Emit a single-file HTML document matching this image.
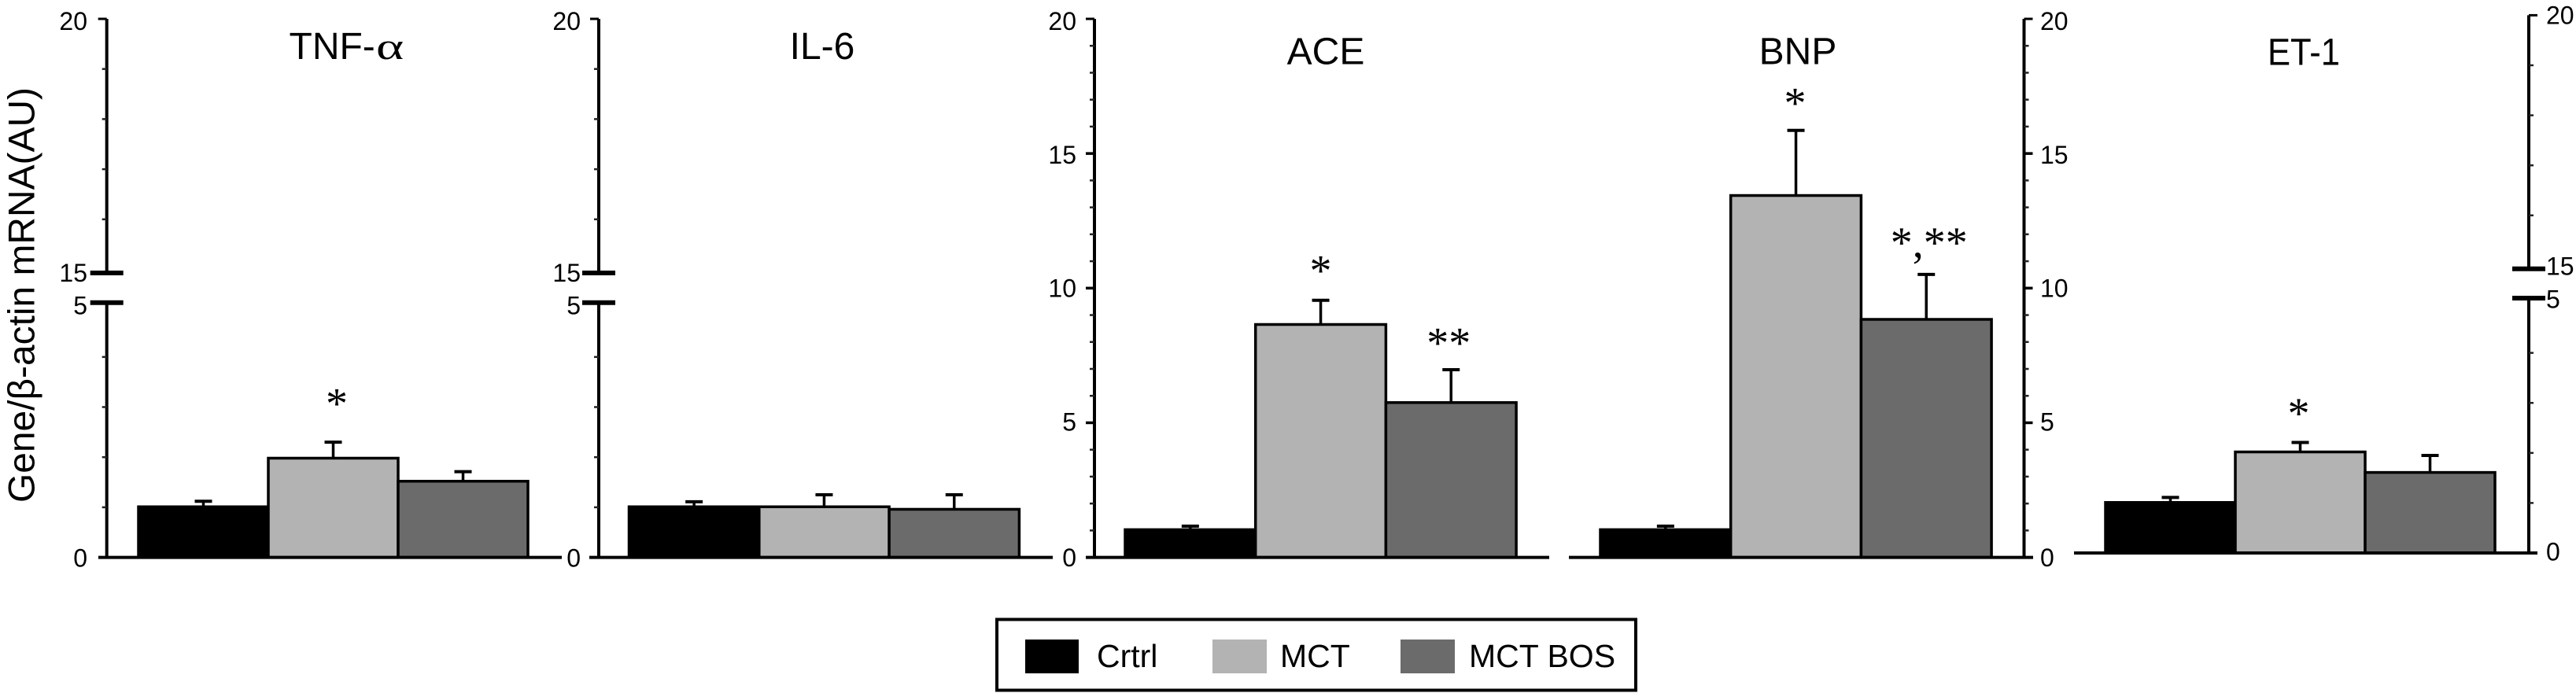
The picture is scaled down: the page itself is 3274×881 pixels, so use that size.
<!DOCTYPE html>
<html lang="en">
<head>
<meta charset="utf-8">
<title>Gene expression bar charts</title>
<style>
html,body{margin:0;padding:0;background:#fff;width:3274px;height:881px;overflow:hidden}
svg{display:block}
text{font-family:"Liberation Sans",sans-serif;fill:#000}
</style>
</head>
<body>
<svg id="figure" xmlns="http://www.w3.org/2000/svg" width="3274" height="881" viewBox="0 0 3274 881">
  <rect width="3274" height="881" fill="#fff"/>
  <text transform="translate(43.5,639) rotate(-90)" font-size="47.5" textLength="528" lengthAdjust="spacingAndGlyphs">Gene/β-actin mRNA(AU)</text>
  <g id="panels"></g>
  <g>
    <rect x="1267" y="787.5" width="812" height="90" fill="#fff" stroke="#000" stroke-width="4"/>
    <g>
      <rect x="1303" y="813" width="68" height="43" fill="#000"/>
      <text x="1394" y="848" font-size="41">Crtrl</text>
    </g>
    <g>
      <rect x="1541" y="813" width="69" height="43" fill="#b3b3b3"/>
      <text x="1627" y="848" font-size="41">MCT</text>
    </g>
    <g>
      <rect x="1780" y="813" width="69" height="43" fill="#6b6b6b"/>
      <text x="1867" y="848" font-size="41">MCT BOS</text>
    </g>
  </g>
</svg>
<script>
// ---- data ----
const groups = ['crtrl', 'mct', 'mct-bos'];
const titles = ['TNF-', 'IL-6', 'ACE', 'BNP', 'ET-1'];
const tnfMeans = [1.01, 1.98, 1.52];
const tnfErrors = [0.11, 0.32, 0.19];
const il6Means = [1.01, 1.01, 0.96];
const il6Errors = [0.10, 0.24, 0.29];
const aceMeans = [1.03, 8.65, 5.75];
const aceErrors = [0.13, 0.90, 1.22];
const bnpMeans = [1.03, 13.44, 8.84];
const bnpErrors = [0.13, 2.42, 1.67];
const et1Means = [1.01, 2.02, 1.61];
const et1Errors = [0.10, 0.19, 0.34];
const tnfMarks = ['', '*', ''];
const il6Marks = ['', '', ''];
const aceMarks = ['', '*', '**'];
const bnpMarks = ['', '*', '*,**'];
const et1Marks = ['', '*', ''];
const brokenTickLabels = [0, 5, 15, 20];
const brokenMinorTicks = [1, 2, 3, 4, 16, 17, 18, 19];
const linearTickLabels = [0, 5, 10, 15, 20];
const linearMinorTicks = [1, 2, 3, 4, 6, 7, 8, 9, 11, 12, 13, 14, 16, 17, 18, 19];

// ---- layout (not data) ----
const barColors = ['#000000', '#b3b3b3', '#6b6b6b'];
const panelLayouts = [
  {key:'tnf', means:tnfMeans, errors:tnfErrors, marks:tnfMarks, broken:true, side:'left', axisX:135.7, top:24, base:708.6, unit:63.7, b15:347, b5:384.7, baseFrom:125, baseTo:714, barLeft:176, barWidth:165, titleX:367.5, titleAnchor:'start', titleY:75, labelX:111},
  {key:'il6', means:il6Means, errors:il6Errors, marks:il6Marks, broken:true, side:'left', axisX:761, top:24, base:708.6, unit:63.7, b15:347, b5:384.7, baseFrom:749, baseTo:1338, barLeft:799.5, barWidth:165.3, titleX:1045, titleY:75, labelX:738},
  {key:'ace', means:aceMeans, errors:aceErrors, marks:aceMarks, broken:false, side:'left', axisX:1391, top:24, base:708.6, baseFrom:1380, baseTo:1969, barLeft:1430, barWidth:165.7, titleX:1685, titleY:81.4, labelX:1368},
  {key:'bnp', means:bnpMeans, errors:bnpErrors, marks:bnpMarks, broken:false, side:'right', axisX:2572.5, top:24, base:708.6, baseFrom:1994, baseTo:2584, barLeft:2034, barWidth:165.7, titleX:2285, titleY:81.4, labelX:2593},
  {key:'et1', means:et1Means, errors:et1Errors, marks:et1Marks, broken:true, side:'right', axisX:3214, top:19.4, base:703, unit:63.6, b15:341.7, b5:379, baseFrom:2636, baseTo:3225, barLeft:2676, barWidth:165, titleX:2928, titleY:82.4, titleLength:92, labelX:3236}
];
const markLifts = {tnf:[0,54.6,0], il6:[0,0,0], ace:[0,43.2,39.5], bnp:[0,40.2,45.8], et1:[0,42.4,0]};
const markShifts = {tnf:[0,4.5,0], il6:[0,0,0], ace:[0,0,-3], bnp:[0,-1,3.5], et1:[0,-2,0]};
const SVG_NS = 'http://www.w3.org/2000/svg';

function make(tag, attrs, parent) {
  const node = document.createElementNS(SVG_NS, tag);
  for (const k in attrs) node.setAttribute(k, attrs[k]);
  parent.appendChild(node);
  return node;
}

function yScale(p) {
  if (p.broken) {
    return function (v) {
      return v <= 5 ? p.base - v * p.unit : p.top + (20 - v) * p.unit;
    };
  }
  const u = (p.base - p.top) / 20;
  return function (v) { return p.base - v * u; };
}

function labelY(p, v) {
  const y = v === 15 && p.broken ? p.b15 : v === 5 && p.broken ? p.b5 : yScale(p)(v);
  if (p.key === 'et1') return y + ({0:9.6, 5:12.7, 15:8, 20:11})[v];
  if (p.broken) return y + ({0:12, 5:15, 15:11, 20:14})[v];
  return y + ({0:11.5, 5:10, 10:11, 15:13, 20:14})[v];
}

const root = document.getElementById('panels');

panelLayouts.forEach(function (p, pi) {
  const y = yScale(p);
  const dir = p.side === 'left' ? -1 : 1;
  const g = make('g', {}, root);
  
  

  // error bars (behind bars)
  p.means.forEach(function (m, i) {
    const cx = p.barLeft + p.barWidth * (i + 0.5);
    const topY = y(m + p.errors[i]);
    const stem = make('line', {x1:cx, x2:cx, y1:y(m), y2:topY, stroke:'#000', 'stroke-width':3.5}, g);
    
    
    const cap = make('line', {x1:cx - 11, x2:cx + 11, y1:topY, y2:topY, stroke:'#000', 'stroke-width':4}, g);
    
    
  });

  // bars
  p.means.forEach(function (m, i) {
    const bar = make('rect', {x:p.barLeft + p.barWidth * i, y:y(m), width:p.barWidth, height:p.base - y(m), fill:barColors[i], stroke:'#000', 'stroke-width':3.5}, g);
    
    
  });

  // significance marks
  p.marks.forEach(function (mark, i) {
    if (!mark) return;
    const cx = p.barLeft + p.barWidth * (i + 0.5) + markShifts[p.key][i];
    const t = make('text', {x:cx, y:y(p.means[i] + p.errors[i]) - markLifts[p.key][i] + 24, 'font-size':56, 'text-anchor':'middle', style:'font-family:"Liberation Serif",serif'}, g);
    t.textContent = mark;
    
    
  });

  // baseline
  const baseLine = make('line', {x1:p.baseFrom, x2:p.baseTo, y1:p.base, y2:p.base, stroke:'#000', 'stroke-width':4}, g);
  
  

  // y axis line
  const segments = p.broken ? [[p.top, p.b15], [p.b5, p.base]] : [[p.top, p.base]];
  segments.forEach(function (seg, si) {
    const axis = make('line', {x1:p.axisX, x2:p.axisX, y1:seg[0], y2:seg[1], stroke:'#000', 'stroke-width':4}, g);
    
    
  });

  // minor ticks
  const minors = p.broken ? brokenMinorTicks : linearMinorTicks;
  minors.forEach(function (v) {
    const tick = make('line', {x1:p.axisX, x2:p.axisX + dir * 6, y1:y(v), y2:y(v), stroke:'#222', 'stroke-width':2.5}, g);
    
    
  });

  // major ticks and labels
  const labels = p.broken ? brokenTickLabels : linearTickLabels;
  labels.forEach(function (v) {
    const isBreak = p.broken && (v === 5 || v === 15);
    if (isBreak) {
      const by = v === 15 ? p.b15 : p.b5;
      const brk = make('line', {x1:p.axisX - 21, x2:p.axisX + 21, y1:by, y2:by, stroke:'#000', 'stroke-width':6}, g);
      
      
    } else if (v !== 0) {
      const major = make('line', {x1:p.axisX, x2:p.axisX + dir * 11, y1:y(v), y2:y(v), stroke:'#000', 'stroke-width':v === 20 ? 3 : 3.5}, g);
      
      
    }
    const lab = make('text', {x:p.labelX, y:labelY(p, v), 'font-size':32, 'text-anchor':p.side === 'left' ? 'end' : 'start'}, g);
    lab.textContent = String(v);
    
    
  });

  // title
  const title = make('text', {x:p.titleX, y:p.titleY, 'font-size':48, 'text-anchor':p.titleAnchor || 'middle'}, g);
  title.textContent = titles[pi];
  if (p.titleLength) {
    title.setAttribute('textLength', p.titleLength);
    title.setAttribute('lengthAdjust', 'spacingAndGlyphs');
  }
  
  
  if (p.key === 'tnf') {
    const alpha = make('text', {transform:'translate(478,' + p.titleY + ') scale(1.4,1)', 'font-size':48, style:'font-family:"Liberation Serif",serif'}, g);
    alpha.textContent = 'α';
    
    
  }
});
</script>
</body>
</html>
